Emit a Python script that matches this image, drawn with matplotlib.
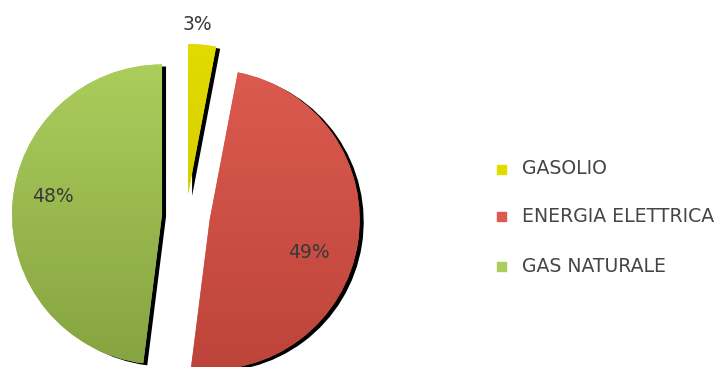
import numpy as np
import matplotlib.pyplot as plt
from matplotlib.colors import to_rgb
from matplotlib.patches import Rectangle

# Dati
categorie = ["GASOLIO", "ENERGIA ELETTRICA", "GAS NATURALE"]
valori = [3, 49, 48]
colori_alto = ["#e2db00", "#dc5a4f", "#abcd5c"]
colori_basso = ["#d6cf00", "#bd443a", "#86a441"]

plt.rcParams['font.family'] = ['DejaVu Sans']

fig = plt.figure(figsize=(7.25, 3.67), dpi=100)
ax = fig.add_axes([0, 0, 1, 1])

centro = (186, 151)
raggio = 150
esplodi = [22, 24, 24]  # spostamento in pixel

# Ombra nera
ax.pie(valori, radius=raggio, center=(centro[0] + 4, centro[1] - 2), startangle=90,
       counterclock=False, explode=esplodi, colors=["black"] * 3, frame=True)

# Torta principale
spicchi, _ = ax.pie(valori, radius=raggio, center=centro, startangle=90,
                    counterclock=False, explode=esplodi, colors=colori_alto, frame=True)

# Riempimento a gradiente verticale
for w, c1, c2 in zip(spicchi, colori_alto, colori_basso):
    r1 = np.array(to_rgb(c1))
    r2 = np.array(to_rgb(c2))
    t = np.linspace(0, 1, 256)[:, None]
    grad = (r1 * (1 - t) + r2 * t)[:, None, :]
    bb = w.get_path().get_extents(w.get_transform() + ax.transData.inverted())
    im = ax.imshow(grad, extent=[bb.x0, bb.x1, bb.y0, bb.y1], origin='upper',
                   aspect='auto', zorder=w.get_zorder() + 0.1)
    im.set_clip_path(w)

ax.set_xlim(0, 725)
ax.set_ylim(0, 367)
ax.set_aspect('equal')
ax.axis('off')

# Etichette percentuali
etichette_pos = [(197, 342), (309, 115), (53, 170)]
for v, (x, y) in zip(valori, etichette_pos):
    ax.text(x, y, f"{v}%", ha='center', va='center', fontsize=13.5, color='#383838', zorder=10)

# Legenda
legenda_y = [198, 151, 101]
for cat, c, y in zip(categorie, colori_alto, legenda_y):
    ax.add_patch(Rectangle((497, y - 4.5), 9, 9, color=c, zorder=10))
    ax.text(522, y, cat, ha='left', va='center', fontsize=13.6, color='#454545', zorder=10)

fig.savefig("out.png", dpi=100)
